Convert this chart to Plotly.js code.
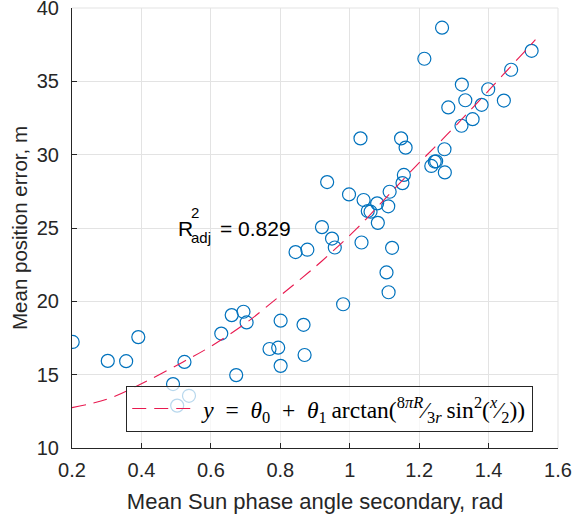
<!DOCTYPE html>
<html>
<head>
<meta charset="utf-8">
<script src="https://cdn.plot.ly/plotly-3.0.1.min.js"></script>
<style>
html,body{margin:0;padding:0;background:#fff;}
#chart{width:573px;height:518px;}
</style>
</head>
<body>
<div id="chart"></div>
<script>
// Observed points (mean Sun phase angle secondary, rad  vs  mean position error, m)
var phaseAngle = [0.202,0.303,0.356,0.391,0.491,0.503,0.524,0.537,0.630,0.660,
  0.673,0.694,0.703,0.769,0.794,0.801,0.801,0.844,0.867,0.870,
  0.878,0.920,0.935,0.949,0.957,0.981,0.998,1.031,1.034,1.040,
  1.052,1.060,1.079,1.081,1.106,1.111,1.112,1.115,1.122,1.148,
  1.152,1.156,1.161,1.215,1.235,1.245,1.249,1.266,1.273,1.274,
  1.284,1.322,1.323,1.333,1.354,1.380,1.399,1.444,1.465,1.524];
var posError = [17.23,15.94,15.92,17.56,14.36,12.89,15.87,13.56,17.80,19.06,
  14.97,19.29,18.56,16.75,16.84,18.68,15.60,23.36,18.40,16.34,
  23.52,25.06,28.13,24.28,23.67,19.80,27.29,31.11,24.01,26.91,
  26.16,26.11,26.68,25.35,21.97,26.48,20.62,27.47,23.65,31.11,
  28.06,28.62,30.48,36.54,29.23,29.53,29.55,38.66,30.37,28.79,
  33.22,31.97,34.78,33.71,32.42,33.40,34.46,33.69,35.79,37.08];

// Fitted curve
var fitX = [0.20,0.25,0.31,0.41,0.52,0.60,0.70,0.79,0.86,0.92,1.02,1.09,1.19,1.29,1.37,1.44,1.52,1.535];
var fitY = [12.75,13.00,13.40,14.50,15.87,16.93,18.50,20.20,21.55,22.75,24.95,26.70,29.20,31.60,33.60,35.40,37.45,37.85];

var xTickVals = [0.2,0.4,0.6,0.8,1,1.2,1.4,1.6];
var xTickText = ['0.2','0.4','0.6','0.8','1','1.2','1.4','1.6'];
var yTickVals = [10,15,20,25,30,35,40];
var yTickText = ['10','15','20','25','30','35','40'];

var SP = '\u2002';
var fitName = '<i>y</i>' + SP + '=' + SP + '<i>θ</i><sub>0</sub>' + SP + '+' + SP + '<i>θ</i><sub>1</sub>\u2009arctan(<sup>8<i>πR</i></sup>⁄<sub>3<i>r</i></sub>\u2009sin<sup>2</sup>(<sup><i>x</i></sup>⁄<sub>2</sub>))';

var axisCol = '#262626';
var gridCol = '#e3e3e3';

var traces = [
  {
    x: phaseAngle, y: posError, type: 'scatter', mode: 'markers',
    showlegend: false, hoverinfo: 'skip',
    marker: {symbol: 'circle-open', size: 13, color: '#0072BD', line: {width: 1.2, color: '#0072BD'}}
  },
  {
    x: fitX, y: fitY, type: 'scatter', mode: 'lines', name: fitName,
    line: {color: '#e8194f', width: 1.1, dash: '14px,8px', shape: 'spline'},
    hoverinfo: 'skip'
  }
];

var tickFont = {family: 'Liberation Sans, Arial, sans-serif', size: 20, color: axisCol};

var layout = {
  width: 573, height: 518,
  margin: {l: 72, r: 15, t: 8, b: 70, pad: 0},
  paper_bgcolor: '#ffffff', plot_bgcolor: '#ffffff',
  showlegend: true,
  xaxis: {
    range: [0.2, 1.6], tickvals: xTickVals, ticktext: xTickText,
    showline: true, linecolor: axisCol, linewidth: 1,
    ticks: 'inside', ticklen: 5, tickcolor: axisCol, tickwidth: 1,
    showgrid: true, gridcolor: gridCol, gridwidth: 1, zeroline: false,
    tickfont: tickFont, ticklabelstandoff: 4, ticklabeloverflow: 'allow',
    title: {text: 'Mean Sun phase angle secondary, rad', font: {family: 'Liberation Sans, Arial, sans-serif', size: 22, color: axisCol}, standoff: 13},
    automargin: false
  },
  yaxis: {
    range: [10, 40], tickvals: yTickVals, ticktext: yTickText,
    showline: true, linecolor: axisCol, linewidth: 1,
    ticks: 'inside', ticklen: 5, tickcolor: axisCol, tickwidth: 1,
    showgrid: true, gridcolor: gridCol, gridwidth: 1, zeroline: false,
    tickfont: tickFont, ticklabelstandoff: 8, ticklabeloverflow: 'allow',
    title: {text: 'Mean position error, m', font: {family: 'Liberation Sans, Arial, sans-serif', size: 20.5, color: axisCol}, standoff: 3},
    automargin: false
  },
  shapes: [
    {type: 'line', xref: 'paper', yref: 'paper', x0: 0, x1: 1, y0: 1, y1: 1, layer: 'below', line: {color: gridCol, width: 1}},
    {type: 'line', xref: 'paper', yref: 'paper', x0: 1, x1: 1, y0: 0, y1: 1, layer: 'below', line: {color: gridCol, width: 1}}
  ],
  legend: {
    x: 0.1116, y: 0.037, xanchor: 'left', yanchor: 'bottom',
    bgcolor: 'rgba(255,255,255,0.72)', bordercolor: axisCol, borderwidth: 1,
    font: {family: 'Liberation Serif, DejaVu Serif, serif', size: 23.5, color: '#000'},
    itemwidth: 66, tracegroupgap: 0
  },
  annotations: [
    {xref: 'x', yref: 'y', x: 0.5, y: 25.0, xanchor: 'left', yanchor: 'middle', showarrow: false,
     text: 'R', font: {family: 'Liberation Sans, Arial, sans-serif', size: 21, color: '#000'}},
    {xref: 'x', yref: 'y', x: 0.537, y: 26.05, xanchor: 'left', yanchor: 'middle', showarrow: false,
     text: '2', font: {family: 'Liberation Sans, Arial, sans-serif', size: 15, color: '#000'}},
    {xref: 'x', yref: 'y', x: 0.537, y: 24.35, xanchor: 'left', yanchor: 'middle', showarrow: false,
     text: 'adj', font: {family: 'Liberation Sans, Arial, sans-serif', size: 15, color: '#000'}},
    {xref: 'x', yref: 'y', x: 0.62, y: 25.0, xanchor: 'left', yanchor: 'middle', showarrow: false,
     text: '= 0.829', font: {family: 'Liberation Sans, Arial, sans-serif', size: 21, color: '#000'}}
  ]
};

Plotly.newPlot('chart', traces, layout, {displayModeBar: false, staticPlot: true});
</script>
</body>
</html>
